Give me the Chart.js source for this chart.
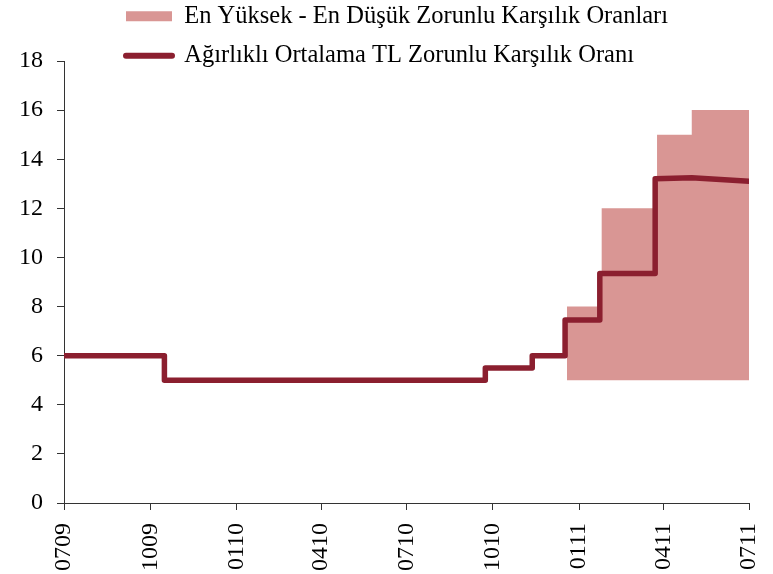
<!DOCTYPE html>
<html>
<head>
<meta charset="utf-8">
<script src="https://cdn.jsdelivr.net/npm/chart.js@4.4.1/dist/chart.umd.min.js"></script>
<style>
  html, body { margin: 0; padding: 0; background: #fff; }
  #wrap { width: 773px; height: 574px; }
</style>
</head>
<body>
<div id="wrap"><canvas id="grafik" width="773" height="574"></canvas></div>
<script>
// x values are days counted from 1 July 2009
const tickDays = [0, 92, 184, 274, 365, 457, 549, 639, 730];
const tickLabels = ['0709', '1009', '0110', '0410', '0710', '1010', '0111', '0411', '0711'];

// weighted average TL reserve requirement (corners of the steps)
const lineDays = [0, 107, 107, 449, 449, 499, 499, 534, 534, 571, 571, 630, 630, 669, 730];
const lineVals = [6, 6, 5, 5, 5.5, 5.5, 6, 6, 7.45, 7.45, 9.35, 9.35, 13.2, 13.25, 13.1];

// highest / lowest reserve ratio band
const bandDays = [536, 573, 632, 669, 730];
const bandHigh = [8, 12, 15, 16, 16];
const bandLow = 5;

const seriesNames = ['En Yüksek - En Düşük Zorunlu Karşılık Oranları', 'Ağırlıklı Ortalama TL Zorunlu Karşılık Oranı'];

const renk_bant = '#D99694';
const renk_cizgi = '#8B1F2F';
const yazi = 'Liberation Serif';

// legend sits above the plot, left aligned, overlapping the top margin
const legendYeri = {
    id: 'legendYeri',
    afterLayout(chart) {
        const pad = chart.options.plugins.legend.labels.padding;
        chart.legend.left = 126 - pad;
        chart.legend.top = 4 - pad;
    }
};

document.addEventListener('DOMContentLoaded', function(){
    const ctx = document.getElementById('grafik');

    new Chart(ctx, {
        type: 'line',
        data: {
            datasets: [{
                label: seriesNames[0],
                data: bandDays.map((d, i) => ({x: d, y: bandHigh[i]})),
                stepped: true,
                fill: {value: bandLow},
                backgroundColor: renk_bant,
                borderColor: renk_bant,
                borderWidth: 0,
                pointRadius: 0,
                pointStyle: 'rect',
                pointBorderWidth: 0
            }, {
                label: seriesNames[1],
                data: lineDays.map((d, i) => ({x: d, y: lineVals[i]})),
                fill: false,
                borderColor: renk_cizgi,
                backgroundColor: renk_cizgi,
                borderWidth: 5.5,
                borderCapStyle: 'round',
                borderJoinStyle: 'round',
                pointRadius: 0,
                pointStyle: 'line',
                pointBorderColor: renk_cizgi,
                pointBorderWidth: 6
            }]
        },
        options: {
            responsive: false,
            animation: false,
            events: [],
            layout: {padding: {left: 5, right: 24, top: 61, bottom: 0}},
            plugins: {
                filler: {drawTime: 'beforeDatasetsDraw'},
                tooltip: {enabled: false},
                legend: {
                    position: 'chartArea',
                    align: 'start',
                    labels: {
                        usePointStyle: true,
                        pointStyleWidth: 46,
                        boxHeight: 10,
                        padding: 15,
                        color: '#000',
                        font: {family: yazi, size: 24.5},
                        generateLabels(chart) {
                            const items = Chart.defaults.plugins.legend.labels.generateLabels(chart);
                            items[1].lineCap = 'round';
                            return items;
                        }
                    }
                }
            },
            scales: {
                x: {
                    type: 'linear',
                    min: 0,
                    max: 730,
                    afterBuildTicks: (axis) => { axis.ticks = tickDays.map(v => ({value: v})); },
                    afterFit: (axis) => { axis.paddingRight = 0; axis.height -= 10; },
                    grid: {drawOnChartArea: false, tickLength: 7, color: '#333'},
                    border: {color: '#333'},
                    ticks: {
                        autoSkip: false,
                        minRotation: 90,
                        maxRotation: 90,
                        padding: 13,
                        color: '#000',
                        font: {family: yazi, size: 24},
                        callback: (v) => tickLabels[tickDays.indexOf(v)]
                    }
                },
                y: {
                    min: 0,
                    max: 18,
                    grid: {drawOnChartArea: false, tickLength: 7, color: '#333'},
                    border: {color: '#333'},
                    ticks: {
                        stepSize: 2,
                        padding: 14,
                        color: '#000',
                        font: {family: yazi, size: 24}
                    }
                }
            }
        },
        plugins: [legendYeri]
    });
});
</script>
</body>
</html>
